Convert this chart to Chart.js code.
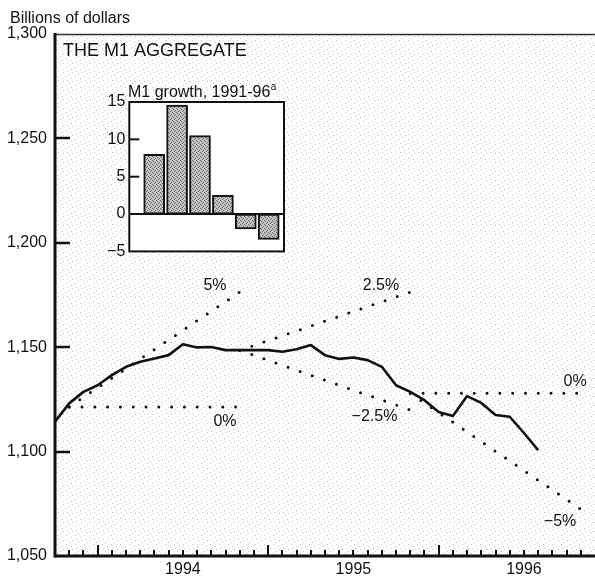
<!DOCTYPE html>
<html><head><meta charset="utf-8">
<script src="https://cdn.jsdelivr.net/npm/chart.js@4/dist/chart.umd.min.js"></script>
<style>
html,body{margin:0;padding:0;background:#fff;}
#wrap{position:relative;width:595px;height:581px;overflow:hidden;}
#main{position:absolute;left:0;top:0;}
#inset{position:absolute;left:90px;top:75px;}
</style></head><body>
<div id="wrap"><canvas id="main" width="595" height="581"></canvas><canvas id="inset" width="200" height="190"></canvas></div>
<script>
const FONT = "'Liberation Sans', Arial, Helvetica, sans-serif";
const INK = '#111';

// ---- Main chart data: M1, billions of dollars, monthly from Oct 1993 (index 0) ----
const m1Values = [1114.3, 1123.1, 1128.6, 1131.8, 1136.6, 1140.6, 1143.0, 1144.6, 1146.2, 1151.4,
                  1149.9, 1150.1, 1148.6, 1148.6, 1148.6, 1148.6, 1147.8, 1149.0, 1151.0, 1146.2,
                  1144.4, 1145.1, 1143.8, 1140.6, 1131.8, 1128.6, 1124.6, 1119.0, 1117.1, 1126.6,
                  1123.3, 1117.5, 1116.7, 1108.9, 1100.7];
const monthMin = 0, monthMax = 38;           // Oct 1993 .. Dec 1996
const yearLabels = ['1994', '1995', '1996'];
const yearLabelMonths = [9, 21, 33];
const yearStartMonths = [3, 15, 27];
const yTickValues = [1050, 1100, 1150, 1200, 1250, 1300];

// growth cones: start month, end month, start value, end value
const coneNames  = ['5%', '0%', '2.5%', '-2.5%', '0% (96)', '-5%'];
const coneStart  = [1, 1, 13, 13, 25, 25];
const coneEnd    = [13, 13, 25, 25, 37, 37];
const coneFrom   = [1121.4, 1121.4, 1148.5, 1148.5, 1127.9, 1127.9];
const coneTo     = [1176.4, 1121.4, 1176.4, 1119.9, 1127.9, 1072.4];
const coneLabels = ['5%', '0%', '2.5%', '\u22122.5%', '0%', '\u22125%'];
const coneLabelX = [11.26, 11.96, 22.94, 22.48, 36.6, 35.54];
const coneLabelY = [1179.7, 1114.4, 1179.4, 1116.7, 1133.5, 1066.3];

// ---- Inset data: M1 growth, percent ----
const growthYears  = ['1991', '1992', '1993', '1994', '1995', '1996'];
const growthValues = [8.0, 14.6, 10.5, 2.5, -2.0, -3.4];
const insetTicks = [-5, 0, 5, 10, 15];

function fmtThousands(v){ return String(v).replace(/\B(?=(\d{3})+(?!\d))/g, ','); }
function fmtMinus(v){ return v < 0 ? '\u2212' + Math.abs(v) : String(v); }

function makePattern(size, base, dots, dotColor){
  const c = document.createElement('canvas'); c.width = size; c.height = size;
  const g = c.getContext('2d');
  if (base){ g.fillStyle = base; g.fillRect(0,0,size,size); }
  g.fillStyle = dotColor;
  dots.forEach(d => g.fillRect(d[0], d[1], 1, 1));
  return g.createPattern(c, 'repeat');
}
const mainCtx = document.getElementById('main').getContext('2d');
const stipple = makePattern(9, '#ffffff', [[0,0],[6,2],[3,4],[8,6],[4,8]], 'rgba(0,0,0,0.24)');
const barFill = makePattern(4, '#c4c4c4', [[0,0],[2,1],[3,2],[1,3]], '#6a6a6a');

const mainDecor = {
  id: 'mainDecor',
  beforeDraw(chart){
    const {ctx, chartArea: a} = chart;
    ctx.save();
    ctx.fillStyle = '#fff'; ctx.fillRect(0, 0, chart.width, chart.height);
    ctx.fillStyle = stipple; ctx.fillRect(a.left, a.top, a.right - a.left, a.bottom - a.top);
    ctx.restore();
  },
  afterDatasetsDraw(chart){
    const {ctx, chartArea: a, scales: {x, y}} = chart;
    ctx.save();
    ctx.strokeStyle = INK; ctx.lineCap = 'butt';
    // top border
    ctx.lineWidth = 1.5; ctx.strokeStyle = '#333';
    ctx.beginPath(); ctx.moveTo(a.left, a.top + 0.5); ctx.lineTo(a.right, a.top + 0.5); ctx.stroke();
    ctx.strokeStyle = INK;
    // y ticks inward
    ctx.lineWidth = 2.5;
    yTickValues.slice(1, -1).forEach(v => {
      const py = Math.round(y.getPixelForValue(v));
      ctx.beginPath(); ctx.moveTo(a.left, py); ctx.lineTo(a.left + 15, py); ctx.stroke();
    });
    // x ticks inward (monthly)
    ctx.lineWidth = 2;
    for (let m = monthMin + 1; m < monthMax; m++){
      const px = Math.round(x.getPixelForValue(m));
      const len = yearStartMonths.includes(m) ? 11 : 6;
      ctx.beginPath(); ctx.moveTo(px, a.bottom); ctx.lineTo(px, a.bottom - len); ctx.stroke();
    }
    // axes
    ctx.lineWidth = 3;
    ctx.beginPath(); ctx.moveTo(a.left, a.top - 1); ctx.lineTo(a.left, a.bottom + 1.5); ctx.stroke();
    ctx.beginPath(); ctx.moveTo(a.left, a.bottom); ctx.lineTo(a.right, a.bottom); ctx.stroke();
    ctx.restore();
  },
  afterDraw(chart){
    const {ctx, scales: {x, y}} = chart;
    ctx.save();
    ctx.fillStyle = INK;
    ctx.textBaseline = 'alphabetic'; ctx.textAlign = 'left';
    ctx.font = '16px ' + FONT;
    ctx.fillText('Billions of dollars', 10, 23);
    ctx.font = '18px ' + FONT;
    ctx.fillText('THE M1 AGGREGATE', 63, 56);
    ctx.font = '16px ' + FONT;
    ctx.textAlign = 'center'; ctx.textBaseline = 'middle';
    coneLabels.forEach((t, i) => {
      ctx.fillText(t, x.getPixelForValue(coneLabelX[i]), y.getPixelForValue(coneLabelY[i]));
    });
    ctx.restore();
  }
};

const coneDatasets = coneNames.map((n, i) => ({
  label: n,
  data: [{x: coneStart[i], y: coneFrom[i]}, {x: coneEnd[i], y: coneTo[i]}],
  borderColor: INK, borderWidth: 3, borderDash: [0, 12.8], borderCapStyle: 'round',
  pointRadius: 0, fill: false, tension: 0
}));

new Chart(mainCtx, {
  type: 'line',
  data: {
    datasets: [
      { label: 'M1', data: m1Values.map((v, i) => ({x: monthMin + i, y: v})),
        borderColor: INK, borderWidth: 2.6, pointRadius: 0, tension: 0, fill: false,
        borderJoinStyle: 'round' },
      ...coneDatasets
    ]
  },
  options: {
    responsive: false, animation: false, devicePixelRatio: 1,
    layout: { padding: { top: 34, right: 0, bottom: 0, left: 0 } },
    plugins: { legend: { display: false }, tooltip: { enabled: false } },
    scales: {
      x: {
        type: 'linear', min: monthMin, max: monthMax, offset: false,
        grid: { display: false, drawTicks: false }, border: { display: false },
        afterBuildTicks: s => { s.ticks = yearLabelMonths.map(v => ({value: v})); },
        ticks: {
          autoSkip: false, maxRotation: 0, padding: 4, color: INK,
          font: { family: FONT, size: 16 },
          callback: v => { const k = yearLabelMonths.indexOf(v); return k >= 0 ? yearLabels[k] : ''; }
        },
        afterFit: s => { s.height = 25; }
      },
      y: {
        min: yTickValues[0], max: yTickValues[yTickValues.length - 1],
        grid: { display: false, drawTicks: false }, border: { display: false },
        afterBuildTicks: s => { s.ticks = yTickValues.map(v => ({value: v})); },
        ticks: { padding: 8, color: INK, font: { family: FONT, size: 16 }, callback: v => fmtThousands(v) },
        afterFit: s => { s.width = 55; }
      }
    }
  },
  plugins: [mainDecor]
});

// ---- Inset ----
const insetDecor = {
  id: 'insetDecor',
  beforeDraw(chart){
    const {ctx, chartArea: a} = chart;
    ctx.save(); ctx.fillStyle = '#fff';
    ctx.fillRect(a.left, a.top, a.right - a.left, a.bottom - a.top);
    ctx.restore();
  },
  afterDatasetsDraw(chart){
    const {ctx, chartArea: a, scales: {y}} = chart;
    ctx.save();
    ctx.strokeStyle = INK; ctx.lineWidth = 2;
    const y0 = y.getPixelForValue(0);
    ctx.beginPath(); ctx.moveTo(a.left, y0); ctx.lineTo(a.right, y0); ctx.stroke();
    [5, 10].forEach(v => {
      const py = y.getPixelForValue(v);
      ctx.beginPath(); ctx.moveTo(a.left, py); ctx.lineTo(a.left + 10, py); ctx.stroke();
    });
    ctx.strokeRect(a.left, a.top, a.right - a.left, a.bottom - a.top);
    ctx.restore();
  },
  afterDraw(chart){
    const {ctx} = chart;
    ctx.save(); ctx.fillStyle = INK; ctx.textAlign = 'left'; ctx.textBaseline = 'alphabetic';
    ctx.font = '16px ' + FONT;
    const t = 'M1 growth, 1991-96';
    ctx.fillText(t, 38, 22);
    const w = ctx.measureText(t).width;
    ctx.font = '10px ' + FONT;
    ctx.fillText('a', 38 + w + 0.5, 15);
    ctx.restore();
  }
};

new Chart(document.getElementById('inset').getContext('2d'), {
  type: 'bar',
  data: {
    datasets: [{
      label: 'M1 growth',
      data: growthValues.map((v, i) => ({x: i, y: v, year: growthYears[i]})),
      backgroundColor: barFill, borderColor: INK, borderWidth: 2, borderSkipped: false,
      barThickness: 21
    }]
  },
  options: {
    responsive: false, animation: false, devicePixelRatio: 1,
    layout: { padding: { top: 27, right: 6, bottom: 11, left: 0 } },
    plugins: { legend: { display: false }, tooltip: { enabled: false } },
    scales: {
      x: { type: 'linear', min: -1.087, max: 5.668, display: false, offset: false },
      y: {
        min: -5, max: 15,
        grid: { display: false, drawTicks: false }, border: { display: false },
        afterBuildTicks: s => { s.ticks = insetTicks.map(v => ({value: v})); },
        ticks: { padding: 4, color: INK, font: { family: FONT, size: 16 }, callback: v => fmtMinus(v) },
        afterFit: s => { s.width = 39.3; }
      }
    }
  },
  plugins: [insetDecor]
});
</script>
</body></html>
